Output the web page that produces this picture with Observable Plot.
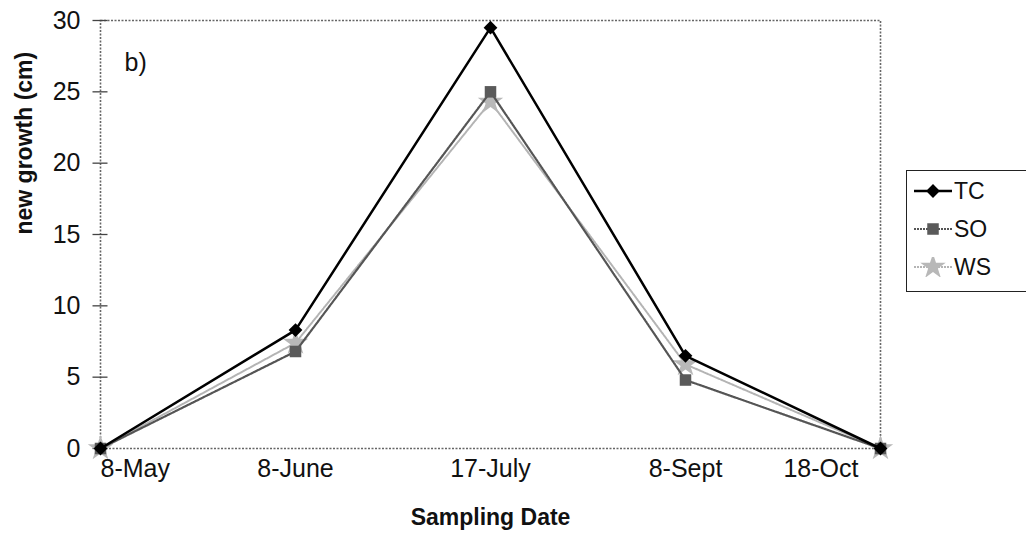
<!DOCTYPE html>
<html><head><meta charset="utf-8">
<script src="https://cdn.jsdelivr.net/npm/d3@7"></script>
<script src="https://cdn.jsdelivr.net/npm/@observablehq/plot@0.6"></script>
<style>
body{margin:0;overflow:hidden;background:#fff;font-family:"Liberation Sans",Arial,sans-serif}
#wrap{position:relative;width:1026px;height:535px;overflow:hidden}
#legend{position:absolute;left:906px;top:170px;width:135px;height:122px;border:1.5px solid #222;box-sizing:border-box;background:#fff;padding-top:1px}
.row{display:flex;align-items:center;height:38px;font-size:23px;color:#111}
.row svg{margin-left:7px;margin-right:2px}
</style>
</head><body>
<div id="wrap"><div id="chart"></div><div id="legend"></div></div>
<script>
const dates = ["8-May", "8-June", "17-July", "8-Sept", "18-Oct"];
const seriesNames = ["TC", "SO", "WS"];
const tcValues = [0, 8.3, 29.5, 6.5, 0];
const soValues = [0, 6.8, 25.0, 4.8, 0];
const wsValues = [0, 7.4, 24.3, 5.9, 0];
const yTicks = [0, 5, 10, 15, 20, 25, 30];

const styles = {
  TC: {stroke: "#000", dash: null, width: 2.5, symbol: "diamond2", fill: "#000", r: 6.2},
  SO: {stroke: "#555", dash: "2,1", width: 2.2, symbol: "square", fill: "#5a5a5a", r: 6.5},
  WS: {stroke: "#b4b4b4", dash: "2,1", width: 2, symbol: "star", fill: "#b8b8b8", r: 8}
};
const valuesBy = {TC: tcValues, SO: soValues, WS: wsValues};
const rows = [];
for (const s of seriesNames) dates.forEach((d, i) => rows.push({date: d, value: valuesBy[s][i], series: s}));

const font = {fontFamily: "Liberation Sans, Arial, sans-serif"};
const marks = [
  Plot.frame({stroke: "#666", strokeDasharray: "2,1.5", strokeWidth: 1.6}),
  Plot.ruleY(yTicks, {y: d => d, x1: () => dates[0], x2: () => dates[0], insetLeft: -7.5, insetRight: -7.5, stroke: "#444", strokeWidth: 1.3}),
  Plot.text(yTicks, {y: d => d, frameAnchor: "left", dx: -20, textAnchor: "end", fontSize: 25, fill: "#111"}),
  Plot.text(dates.slice(1, -1), {x: d => d, frameAnchor: "bottom", lineAnchor: "middle", dy: 20, fontSize: 25, fill: "#111"}),
  Plot.text(dates.slice(0, 1), {x: d => d, frameAnchor: "bottom", lineAnchor: "middle", dy: 20, textAnchor: "start", fontSize: 25, fill: "#111"}),
  Plot.text(dates.slice(-1), {x: d => d, frameAnchor: "bottom", lineAnchor: "middle", dy: 20, dx: -22, textAnchor: "end", fontSize: 25, fill: "#111"}),
  Plot.text(["Sampling Date"], {frameAnchor: "bottom", lineAnchor: "middle", dy: 69, fontSize: 23, fontWeight: "bold", fill: "#111"}),
  Plot.text(["new growth (cm)"], {frameAnchor: "left", rotate: -90, dx: -76, fontSize: 23, fontWeight: "bold", fill: "#111"}),
  Plot.text(["b)"], {frameAnchor: "top-left", lineAnchor: "middle", dx: 24, dy: 42, textAnchor: "start", fontSize: 25, fill: "#111"})
];
for (const s of ["WS", "SO", "TC"]) {
  const st = styles[s];
  const data = rows.filter(r => r.series === s);
  marks.push(Plot.line(data, {x: "date", y: "value", stroke: st.stroke, strokeWidth: st.width, strokeDasharray: st.dash}));
  marks.push(Plot.dot(data, {x: "date", y: "value", symbol: () => st.symbol, r: st.r, fill: st.fill, stroke: "none"}));
}

const chart = Plot.plot({
  width: 1026, height: 535,
  marginLeft: 100, marginRight: 146, marginTop: 20, marginBottom: 87,
  style: {...font, background: "#fff"},
  x: {type: "point", domain: dates, padding: 0, axis: null},
  y: {domain: [0, 30], axis: null},
  symbol: {type: "identity"},
  marks
});
document.getElementById("chart").appendChild(chart);

// legend
const leg = document.getElementById("legend");
const shapes = {TC: d3.symbolDiamond2, SO: d3.symbolSquare, WS: d3.symbolStar};
for (const s of seriesNames) {
  const st = styles[s];
  const row = document.createElement("div");
  row.className = "row";
  const svg = d3.create("svg").attr("width", 38).attr("height", 20);
  svg.append("line").attr("x1", 0).attr("x2", 38).attr("y1", 10).attr("y2", 10)
    .attr("stroke", st.stroke).attr("stroke-width", st.width).attr("stroke-dasharray", st.dash);
  svg.append("path").attr("transform", "translate(19,10)")
    .attr("d", d3.symbol(shapes[s], Math.PI * st.r * st.r)()).attr("fill", st.fill);
  row.appendChild(svg.node());
  const t = document.createElement("span");
  t.textContent = s;
  row.appendChild(t);
  leg.appendChild(row);
}
</script>
</body></html>
